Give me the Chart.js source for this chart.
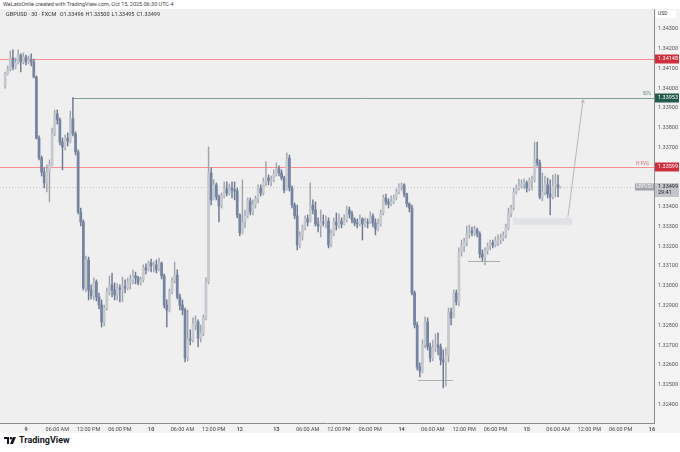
<!DOCTYPE html>
<html>
<head>
<meta charset="utf-8">
<script src="https://cdn.jsdelivr.net/npm/chart.js@4.4.1/dist/chart.umd.min.js"></script>
<style>
  html, body { margin: 0; padding: 0; background: #fff; width: 680px; height: 452px; overflow: hidden; font-family: Roboto, "DejaVu Sans", sans-serif; }
  #hdr { position: absolute; left: 3px; top: 1px; font-size: 5.5px; color: #444; white-space: nowrap; }
  #wrap { position: absolute; left: 0; top: 9px; width: 680px; height: 424px; }
  #legend { position: absolute; left: 6px; top: 11px; font-size: 5.5px; color: #333; white-space: nowrap; z-index: 2; }
  #legend span { margin-right: 2px; }
  #logo { position: absolute; left: 4px; top: 435px; display: flex; align-items: center; gap: 3px; font-weight: 700; font-size: 9px; color: #131722; }
</style>
</head>
<body>
<div id="hdr">WeLatoOnlie created with TradingView.com, Oct 15, 2025 06:30 UTC-4</div>
<div id="wrap"><canvas id="chart"></canvas></div>
<div id="legend"></div>
<div id="logo">
  <svg width="12" height="7" viewBox="0 0 12 7"><path d="M0 0h5v7H3V2H0z M9 0h3l-3 7H6z" fill="#131722"/><circle cx="7" cy="1.3" r="1.3" fill="#131722"/></svg>
  <span>TradingView</span>
</div>
<script>
// --- GBPUSD 30 phút, FXCM (ước lượng từ ảnh) ---
const opens = [
  1.34012,1.34072,1.34098,1.34153,1.34108,1.34128,1.34168,1.34133,1.34158,1.34133,
  1.34143,1.34133,1.34057,1.33748,1.33647,1.33576,1.33521,1.33576,1.33612,1.33769,
  1.33870,1.33840,1.33728,1.33703,1.33748,1.33733,1.33845,1.33769,1.33678,1.33374,
  1.33323,1.32989,1.33131,1.32979,1.32949,1.33020,1.32944,1.32903,1.32817,1.32888,
  1.32969,1.33005,1.32979,1.32954,1.32989,1.32984,1.32995,1.32989,1.33020,1.33030,
  1.33050,1.33040,1.33015,1.33030,1.33091,1.33081,1.33116,1.33101,1.33106,1.33081,
  1.33116,1.33050,1.32903,1.32878,1.32969,1.33025,1.33055,1.32944,1.32903,1.32878,
  1.32635,1.32731,1.32726,1.32807,1.32817,1.32736,1.32762,1.32838,1.33020,1.33571,
  1.33435,1.33511,1.33450,1.33404,1.33455,1.33490,1.33470,1.33495,1.33485,1.33480,
  1.33359,1.33268,1.33323,1.33354,1.33430,1.33374,1.33409,1.33440,1.33495,1.33470,
  1.33526,1.33546,1.33531,1.33536,1.33566,1.33592,1.33571,1.33546,1.33485,1.33647,
  1.33495,1.33409,1.33354,1.33207,1.33253,1.33293,1.33339,1.33323,1.33409,1.33384,
  1.33313,1.33303,1.33323,1.33318,1.33328,1.33207,1.33263,1.33323,1.33308,1.33328,
  1.33313,1.33334,1.33384,1.33364,1.33334,1.33318,1.33313,1.33339,1.33313,1.33323,
  1.33318,1.33354,1.33318,1.33288,1.33313,1.33369,1.33445,1.33425,1.33415,1.33425,
  1.33445,1.33475,1.33501,1.33511,1.33465,1.33415,1.33394,1.32964,1.32802,1.32590,
  1.32569,1.32701,1.32817,1.32691,1.32635,1.32686,1.32701,1.32691,1.32625,1.32615,
  1.32650,1.32868,1.32838,1.32964,1.32919,1.33172,1.33202,1.33222,1.33263,1.33278,
  1.33268,1.33283,1.33263,1.33161,1.33146,1.33177,1.33202,1.33217,1.33207,1.33227,
  1.33232,1.33242,1.33253,1.33293,1.33364,1.33394,1.33475,1.33495,1.33506,1.33516,
  1.33521,1.33495,1.33531,1.33536,1.33642,1.33622,1.33450,1.33475,1.33511,1.33465,
  1.33450,1.33506,1.33511,1.33496
];
const highs = [
  1.34082,1.34113,1.34189,1.34194,1.34153,1.34194,1.34174,1.34179,1.34168,1.34163,
  1.34174,1.34148,1.34062,1.33759,1.33657,1.33597,1.33612,1.33637,1.33799,1.33890,
  1.33890,1.33850,1.33748,1.33764,1.33774,1.33885,1.33953,1.33779,1.33688,1.33394,
  1.33334,1.33151,1.33146,1.33005,1.33040,1.33030,1.32964,1.32929,1.32903,1.32989,
  1.33050,1.33065,1.33015,1.33010,1.33005,1.33045,1.33030,1.33040,1.33055,1.33081,
  1.33070,1.33050,1.33045,1.33106,1.33111,1.33126,1.33136,1.33121,1.33131,1.33141,
  1.33121,1.33060,1.32929,1.32984,1.33040,1.33121,1.33081,1.32959,1.32929,1.32888,
  1.32878,1.32777,1.32838,1.32848,1.32828,1.32802,1.32853,1.33040,1.33703,1.33597,
  1.33536,1.33521,1.33460,1.33470,1.33526,1.33526,1.33516,1.33526,1.33526,1.33495,
  1.33364,1.33536,1.33384,1.33445,1.33445,1.33435,1.33455,1.33511,1.33511,1.33546,
  1.33627,1.33561,1.33556,1.33587,1.33622,1.33607,1.33587,1.33556,1.33673,1.33662,
  1.33506,1.33420,1.33409,1.33273,1.33308,1.33354,1.33359,1.33521,1.33435,1.33425,
  1.33344,1.33384,1.33359,1.33354,1.33344,1.33283,1.33344,1.33369,1.33364,1.33344,
  1.33359,1.33404,1.33399,1.33379,1.33344,1.33339,1.33359,1.33344,1.33344,1.33339,
  1.33374,1.33364,1.33339,1.33339,1.33384,1.33460,1.33465,1.33440,1.33455,1.33460,
  1.33490,1.33516,1.33521,1.33516,1.33470,1.33420,1.33409,1.32974,1.32817,1.32610,
  1.32726,1.32843,1.32838,1.32711,1.32726,1.32757,1.32762,1.32706,1.32676,1.32686,
  1.32888,1.32888,1.32979,1.32979,1.33192,1.33232,1.33242,1.33303,1.33308,1.33298,
  1.33303,1.33293,1.33273,1.33182,1.33192,1.33217,1.33232,1.33232,1.33248,1.33258,
  1.33263,1.33273,1.33313,1.33394,1.33409,1.33495,1.33511,1.33541,1.33536,1.33541,
  1.33531,1.33546,1.33556,1.33728,1.33728,1.33637,1.33571,1.33556,1.33546,1.33536,
  1.33561,1.33566,1.33561,1.33500
];
const lows = [
  1.34001,1.34067,1.34087,1.34093,1.34098,1.34123,1.34082,1.34123,1.34118,1.34123,
  1.34113,1.34052,1.33743,1.33637,1.33556,1.33495,1.33475,1.33425,1.33607,1.33759,
  1.33819,1.33713,1.33587,1.33688,1.33708,1.33723,1.33759,1.33662,1.33364,1.33303,
  1.32979,1.32969,1.32929,1.32934,1.32929,1.32924,1.32883,1.32792,1.32797,1.32878,
  1.32954,1.32944,1.32929,1.32929,1.32919,1.32919,1.32964,1.32979,1.32984,1.33010,
  1.33010,1.33005,1.33005,1.33020,1.33060,1.33075,1.33070,1.33070,1.33065,1.33075,
  1.33035,1.32888,1.32792,1.32868,1.32959,1.33015,1.32934,1.32878,1.32853,1.32615,
  1.32620,1.32701,1.32716,1.32777,1.32691,1.32716,1.32747,1.32828,1.33010,1.33409,
  1.33435,1.33435,1.33323,1.33394,1.33445,1.33455,1.33460,1.33445,1.33435,1.33344,
  1.33253,1.33263,1.33293,1.33344,1.33359,1.33359,1.33394,1.33420,1.33455,1.33460,
  1.33506,1.33511,1.33506,1.33526,1.33556,1.33556,1.33536,1.33470,1.33485,1.33480,
  1.33394,1.33339,1.33182,1.33192,1.33232,1.33283,1.33303,1.33323,1.33364,1.33303,
  1.33273,1.33248,1.33303,1.33293,1.33192,1.33197,1.33253,1.33283,1.33293,1.33293,
  1.33308,1.33323,1.33344,1.33318,1.33303,1.33293,1.33303,1.33232,1.33298,1.33293,
  1.33313,1.33298,1.33258,1.33278,1.33303,1.33359,1.33409,1.33394,1.33404,1.33415,
  1.33435,1.33465,1.33485,1.33450,1.33399,1.33374,1.32954,1.32787,1.32575,1.32539,
  1.32559,1.32686,1.32676,1.32615,1.32620,1.32666,1.32650,1.32600,1.32483,1.32494,
  1.32615,1.32802,1.32838,1.32903,1.32898,1.33151,1.33172,1.33202,1.33242,1.33253,
  1.33253,1.33248,1.33141,1.33126,1.33106,1.33161,1.33182,1.33192,1.33197,1.33202,
  1.33212,1.33227,1.33242,1.33283,1.33349,1.33384,1.33465,1.33485,1.33495,1.33490,
  1.33475,1.33480,1.33485,1.33526,1.33607,1.33440,1.33430,1.33460,1.33445,1.33359,
  1.33440,1.33450,1.33450,1.33495
];
const closes = [
  1.34072,1.34098,1.34153,1.34108,1.34128,1.34168,1.34133,1.34158,1.34133,1.34143,
  1.34133,1.34057,1.33748,1.33647,1.33576,1.33521,1.33576,1.33612,1.33769,1.33870,
  1.33840,1.33728,1.33703,1.33748,1.33733,1.33845,1.33769,1.33678,1.33374,1.33323,
  1.32989,1.33131,1.32979,1.32949,1.33020,1.32944,1.32903,1.32817,1.32888,1.32969,
  1.33005,1.32979,1.32954,1.32989,1.32984,1.32995,1.32989,1.33020,1.33030,1.33050,
  1.33040,1.33015,1.33030,1.33091,1.33081,1.33116,1.33101,1.33106,1.33081,1.33116,
  1.33050,1.32903,1.32878,1.32969,1.33025,1.33055,1.32944,1.32903,1.32878,1.32635,
  1.32731,1.32726,1.32807,1.32817,1.32736,1.32762,1.32838,1.33020,1.33571,1.33435,
  1.33511,1.33450,1.33404,1.33455,1.33490,1.33470,1.33495,1.33485,1.33480,1.33359,
  1.33268,1.33323,1.33354,1.33430,1.33374,1.33409,1.33440,1.33495,1.33470,1.33526,
  1.33546,1.33531,1.33536,1.33566,1.33592,1.33571,1.33546,1.33485,1.33647,1.33495,
  1.33409,1.33354,1.33207,1.33253,1.33293,1.33339,1.33323,1.33409,1.33384,1.33313,
  1.33303,1.33323,1.33318,1.33328,1.33207,1.33263,1.33323,1.33308,1.33328,1.33313,
  1.33334,1.33384,1.33364,1.33334,1.33318,1.33313,1.33339,1.33313,1.33323,1.33318,
  1.33354,1.33318,1.33288,1.33313,1.33369,1.33445,1.33425,1.33415,1.33425,1.33445,
  1.33475,1.33501,1.33511,1.33465,1.33415,1.33394,1.32964,1.32802,1.32590,1.32569,
  1.32701,1.32817,1.32691,1.32635,1.32686,1.32701,1.32691,1.32625,1.32615,1.32650,
  1.32868,1.32838,1.32964,1.32919,1.33172,1.33202,1.33222,1.33263,1.33278,1.33268,
  1.33283,1.33263,1.33161,1.33146,1.33177,1.33202,1.33217,1.33207,1.33227,1.33232,
  1.33242,1.33253,1.33293,1.33364,1.33394,1.33475,1.33495,1.33506,1.33516,1.33521,
  1.33495,1.33531,1.33536,1.33642,1.33622,1.33450,1.33475,1.33511,1.33465,1.33450,
  1.33506,1.33511,1.33496,1.33499
];

// Nhãn trục thời gian (chỉ số nến -> nhãn)
const tickBars   = [8, 20, 32, 44, 56, 68, 80, 90, 104, 116, 128, 140, 152, 164, 176, 188, 200, 212, 224, 236, 248];
const tickLabels = ['9', '06:00 AM', '12:00 PM', '06:00 PM', '10', '06:00 AM', '12:00 PM', '12', '13', '06:00 AM', '12:00 PM', '06:00 PM', '14', '06:00 AM', '12:00 PM', '06:00 PM', '15', '06:00 AM', '12:00 PM', '06:00 PM', '16'];
const dayLabels = ['9', '10', '12', '13', '14', '15', '16'];
const priceTicks = [1.324, 1.325, 1.326, 1.327, 1.328, 1.329, 1.330, 1.331, 1.332, 1.333, 1.334, 1.335, 1.336, 1.337, 1.338, 1.339, 1.340, 1.341, 1.342, 1.343];

// Các mức vẽ tay trên biểu đồ
const redLevels = [1.34148, 1.33599];
const rayLevel = 1.33953;
const rayStartBar = 26;
const lowLevel = 1.32524;
const lowLevelBars = [158.3, 171.7];
const midLevel = 1.33126;
const midLevelBars = [177.5, 189.8];
const boxBars = [194.7, 217.4];
const boxPrices = [1.33344, 1.33309];
const arrowFrom = [215.8, 1.33349];
const arrowTo = [221.6, 1.33941];
const countdown = '29:41';

const last = closes.length - 1;
const isUp = closes.map((c, i) => c >= opens[i]);

document.getElementById('legend').innerHTML =
  '<span>GBPUSD · 30 · FXCM</span> ' +
  `<span>O${opens[last].toFixed(5)}</span><span>H${highs[last].toFixed(5)}</span>` +
  `<span>L${lows[last].toFixed(5)}</span><span>C${closes[last].toFixed(5)}</span>`;

const FONT = 'Roboto, "DejaVu Sans", sans-serif';

function axisLabel(ctx, area, y, price, bg, fg) {
  ctx.fillStyle = bg;
  ctx.fillRect(area.right + 1, Math.round(y) - 4.5, 24, 9);
  ctx.fillStyle = fg;
  ctx.font = `5.5px ${FONT}`;
  ctx.textAlign = 'left';
  ctx.textBaseline = 'middle';
  ctx.fillText(price.toFixed(5), area.right + 4, Math.round(y));
}

const overlay = {
  id: 'overlay',
  beforeDraw(chart) {
    const { ctx, chartArea: a } = chart;
    ctx.save();
    ctx.fillStyle = '#f3f3f3';
    ctx.fillRect(0, 0, chart.width, chart.height);
    ctx.fillStyle = '#efefef';
    ctx.fillRect(a.left, a.top, a.right - a.left, a.bottom - a.top);
    ctx.restore();
  },
  beforeDatasetsDraw(chart) {
    const { ctx, chartArea: a, scales: { x, y } } = chart;
    ctx.save();
    ctx.beginPath();
    ctx.rect(a.left, a.top, a.right - a.left, a.bottom - a.top);
    ctx.clip();
    ctx.lineWidth = 0.8;

    // đường giá hiện tại (chấm)
    ctx.strokeStyle = '#bdbdbd';
    ctx.setLineDash([1, 2]);
    let py = Math.round(y.getPixelForValue(closes[last])) + 0.5;
    ctx.beginPath(); ctx.moveTo(a.left, py); ctx.lineTo(a.right, py); ctx.stroke();
    ctx.setLineDash([]);

    // các mức đỏ
    ctx.fillStyle = 'rgba(255, 110, 110, 0.75)';
    redLevels.forEach(p => {
      const yy = Math.round(y.getPixelForValue(p));
      ctx.fillRect(a.left, yy, a.right - a.left, 1);
    });

    // tia ngang
    ctx.strokeStyle = '#5d8a7e';
    py = Math.round(y.getPixelForValue(rayLevel)) + 0.5;
    ctx.beginPath(); ctx.moveTo(x.getPixelForValue(rayStartBar), py); ctx.lineTo(a.right, py); ctx.stroke();

    // đáy và mức giữa
    ctx.strokeStyle = '#9d9d9d';
    [[lowLevelBars, lowLevel], [midLevelBars, midLevel]].forEach(([bars, p]) => {
      const yy = Math.round(y.getPixelForValue(p)) + 0.5;
      ctx.beginPath(); ctx.moveTo(x.getPixelForValue(bars[0]), yy); ctx.lineTo(x.getPixelForValue(bars[1]), yy); ctx.stroke();
    });

    // hộp mục tiêu
    ctx.fillStyle = '#e1e2e6';
    const bx0 = x.getPixelForValue(boxBars[0]), bx1 = x.getPixelForValue(boxBars[1]);
    const by0 = y.getPixelForValue(boxPrices[0]), by1 = y.getPixelForValue(boxPrices[1]);
    ctx.fillRect(bx0, by0, bx1 - bx0, by1 - by0);

    // mũi tên dự phóng
    const ax0 = x.getPixelForValue(arrowFrom[0]), ay0 = y.getPixelForValue(arrowFrom[1]);
    const ax1 = x.getPixelForValue(arrowTo[0]), ay1 = y.getPixelForValue(arrowTo[1]);
    ctx.strokeStyle = '#a9a9a9';
    ctx.beginPath(); ctx.moveTo(ax0, ay0); ctx.lineTo(ax1, ay1); ctx.stroke();
    const ang = Math.atan2(ay1 - ay0, ax1 - ax0);
    ctx.beginPath();
    ctx.moveTo(ax1 - 3.5 * Math.cos(ang - 0.5), ay1 - 3.5 * Math.sin(ang - 0.5));
    ctx.lineTo(ax1, ay1);
    ctx.lineTo(ax1 - 3.5 * Math.cos(ang + 0.5), ay1 - 3.5 * Math.sin(ang + 0.5));
    ctx.stroke();

    // chữ nhỏ trên các mức
    ctx.font = `4.5px ${FONT}`;
    ctx.textAlign = 'right';
    ctx.textBaseline = 'bottom';
    ctx.fillStyle = '#5d8a7e';
    ctx.fillText('50%', a.right - 3, y.getPixelForValue(rayLevel) - 1);
    ctx.fillStyle = '#d46a6a';
    ctx.fillText('H FVG', a.right - 5, y.getPixelForValue(redLevels[1]) - 1);
    ctx.restore();
  },
  afterDraw(chart) {
    const { ctx, chartArea: a, scales: { y } } = chart;
    ctx.save();
    axisLabel(ctx, a, y.getPixelForValue(redLevels[0]), redLevels[0], '#cf2f3c', '#fff');
    axisLabel(ctx, a, y.getPixelForValue(rayLevel), rayLevel, '#1f5a4b', '#fff');
    axisLabel(ctx, a, y.getPixelForValue(redLevels[1]), redLevels[1], '#cf2f3c', '#fff');

    // nhãn giá hiện tại
    const cy = Math.round(y.getPixelForValue(closes[last]));
    ctx.fillStyle = '#c2c5cb';
    ctx.fillRect(a.right + 1, cy - 4, 24, 14);
    ctx.fillStyle = '#222';
    ctx.font = `5.5px ${FONT}`;
    ctx.textAlign = 'left';
    ctx.textBaseline = 'middle';
    ctx.fillText(closes[last].toFixed(5), a.right + 4, cy);
    ctx.fillText(countdown, a.right + 4, cy + 6);
    ctx.fillStyle = '#9ea2aa';
    ctx.fillRect(a.right - 19, cy - 3.5, 19, 7);
    ctx.fillStyle = '#fff';
    ctx.font = `4.5px ${FONT}`;
    ctx.textAlign = 'center';
    ctx.fillText('GBPUSD', a.right - 9.5, cy);

    // đơn vị
    ctx.fillStyle = '#fff';
    ctx.fillRect(a.right + 2, a.top + 1, 20, 8);
    ctx.fillStyle = '#333';
    ctx.font = `5px ${FONT}`;
    ctx.textAlign = 'left';
    ctx.fillText('USD', a.right + 4, a.top + 5);
    ctx.restore();
  }
};

const wickData = highs.map((h, i) => ({ x: i, y: [lows[i], h] }));
const bodyData = closes.map((c, i) => ({ x: i, y: [opens[i], c] }));

new Chart(document.getElementById('chart'), {
  type: 'bar',
  data: {
    datasets: [
      {
        data: bodyData,
        backgroundColor: isUp.map(u => u ? '#c6c9d0' : '#7584a0'),
        barThickness: 2.1,
        minBarLength: 1,
        grouped: false,
        order: 1
      },
      {
        data: wickData,
        backgroundColor: isUp.map(u => u ? '#9fa4ae' : '#6d7992'),
        barThickness: 0.8,
        grouped: false,
        order: 2
      }
    ]
  },
  options: {
    responsive: true,
    maintainAspectRatio: false,
    animation: false,
    layout: { padding: 0 },
    plugins: { legend: { display: false }, tooltip: { enabled: false } },
    scales: {
      x: {
        type: 'linear',
        offset: false,
        min: -1.96,
        max: 248.8,
        grid: { display: false, drawTicks: false, offset: false },
        border: { display: true, color: '#8c8c8c', width: 1 },
        ticks: {
          autoSkip: false,
          maxRotation: 0,
          padding: 3,
          color: '#4a4a4a',
          font: ctx => ({ size: 5.5, family: FONT, weight: dayLabels.includes(tickLabels[tickBars.indexOf(ctx.tick && ctx.tick.value)]) ? '600' : '400' }),
          callback: v => tickLabels[tickBars.indexOf(v)] || ''
        },
        afterBuildTicks: s => { s.ticks = tickBars.map(v => ({ value: v })); },
        afterFit: s => { s.height = 10; s.paddingLeft = 0; s.paddingRight = 0; }
      },
      y: {
        position: 'right',
        min: 1.32306,
        max: 1.34401,
        grid: { display: false, drawTicks: false },
        border: { display: true, color: '#8c8c8c', width: 1 },
        ticks: {
          padding: 4,
          color: '#555',
          font: { size: 5.5, family: FONT },
          callback: v => Number(v).toFixed(5)
        },
        afterBuildTicks: s => { s.ticks = priceTicks.map(v => ({ value: v })); },
        afterFit: s => { s.width = 26; s.paddingTop = 0; s.paddingBottom = 0; }
      }
    }
  },
  plugins: [overlay]
});
</script>
</body>
</html>
